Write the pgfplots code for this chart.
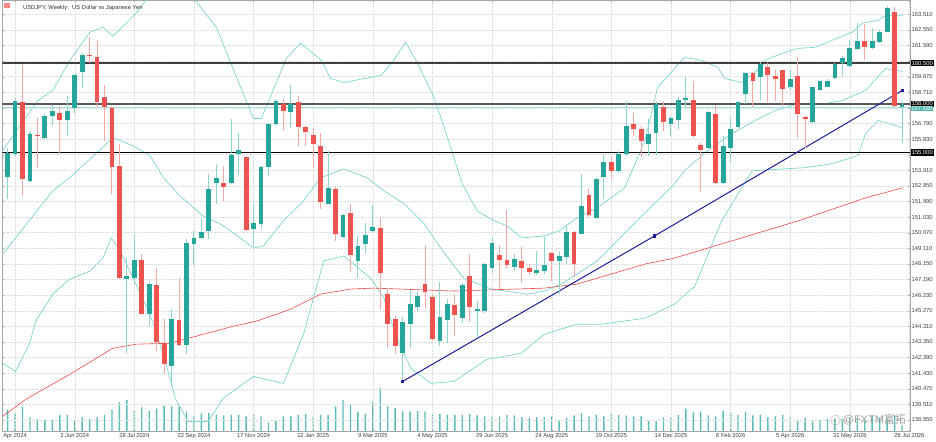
\documentclass[border=0pt]{standalone}
\usepackage{pgfplots}
\pgfplotsset{compat=1.18}
\usepackage{pgfplotstable}
\usepackage{fontspec}
\setmainfont{Liberation Sans}
\newfontfamily\cjk{Noto Sans CJK SC}
\definecolor{cg}{HTML}{26A69A}
\definecolor{cr}{HTML}{EF5350}
\definecolor{cgw}{HTML}{8FD3CC}
\definecolor{crw}{HTML}{F5A9A7}
\definecolor{band}{HTML}{7FD3CF}
\definecolor{ma}{HTML}{F04A4A}
\definecolor{navy}{HTML}{1C1C9C}
\pgfplotstableread{
i O H L C
0 153.51 155.30 152.15 154.99
1 154.93 158.32 154.81 158.14
3 153.26 156.29 153.20 156.16
5 155.92 157.40 155.86 157.27
6 157.27 157.95 156.72 157.58
8 157.03 158.45 156.04 157.58
9 157.71 159.80 157.46 159.74
10 159.93 161.10 158.94 160.98
16 147.22 148.57 142.65 147.40
17 147.28 149.99 146.91 148.39
19 145.06 147.03 144.32 146.91
22 141.85 145.37 140.62 144.75
24 143.15 149.69 142.59 149.44
25 149.38 150.18 148.08 149.75
26 149.75 150.92 149.69 150.12
27 150.18 153.70 149.69 152.77
28 153.14 154.31 151.85 153.45
30 153.14 157.09 153.08 154.87
31 154.93 156.23 153.70 155.18
33 150.30 151.78 149.25 150.67
34 150.61 154.19 150.30 154.13
35 154.13 156.84 153.57 156.78
36 156.78 158.32 156.66 158.14
38 157.52 159.13 156.53 158.01
43 151.85 155.12 151.85 152.83
45 149.81 151.23 149.75 151.17
47 148.33 149.87 147.28 149.25
48 149.38 150.67 148.82 149.93
49 150.18 151.78 150.06 150.43
53 142.65 144.87 140.92 144.56
54 144.44 146.66 142.96 145.68
55 145.49 146.48 145.24 146.17
58 143.39 147.03 143.08 144.87
59 144.69 145.98 143.27 145.68
61 144.81 146.97 144.50 146.85
63 145.24 145.86 143.58 145.37
64 145.24 148.20 145.12 148.14
65 147.90 149.81 147.59 149.44
68 147.96 148.76 147.71 148.45
71 147.59 148.94 147.46 147.77
72 147.71 149.81 147.53 148.08
74 148.33 148.94 146.29 148.64
75 148.58 150.55 148.14 150.12
77 149.99 153.70 149.99 151.72
79 150.98 153.45 150.92 153.39
80 153.51 154.87 152.15 154.44
82 153.88 155.12 153.76 154.93
83 154.93 158.14 154.81 156.66
86 155.55 157.09 154.81 156.16
87 156.23 158.08 154.87 158.01
89 156.78 157.27 156.04 157.15
90 157.03 158.39 156.47 158.26
91 158.26 159.62 157.77 158.35
94 155.30 157.58 155.24 157.52
96 153.14 156.04 153.08 155.42
97 155.30 157.15 154.44 156.47
98 156.60 158.20 156.53 158.08
99 158.63 159.93 158.01 159.87
101 159.62 160.54 158.26 160.42
105 159.00 160.05 158.82 159.50
108 156.90 159.06 156.84 159.00
109 158.82 159.43 158.76 159.37
110 159.06 159.50 159.00 159.43
111 159.56 160.48 159.50 160.42
112 160.48 160.91 159.68 160.79
113 160.30 161.90 160.24 161.41
114 161.35 162.95 161.29 161.84
116 161.41 162.64 161.35 161.84
117 161.78 162.52 161.72 162.40
118 162.40 164.00 162.40 163.88
120 157.77 158.20 155.61 157.95
}\greentab
\pgfplotstableread{
i O H L C
2 158.08 160.36 152.34 153.39
4 156.10 157.15 154.07 156.00
7 157.46 157.77 154.93 157.03
11 161.00 162.09 160.48 160.92
12 160.85 161.90 157.71 158.08
13 158.39 159.13 155.73 157.77
14 157.71 157.89 152.46 154.13
15 154.19 155.55 147.22 147.28
18 148.39 148.76 145.00 145.06
20 146.85 147.90 142.77 143.33
21 143.27 144.75 141.36 141.97
23 144.69 147.28 143.08 143.15
29 153.14 154.19 152.03 152.89
32 154.74 154.81 150.18 150.24
37 158.01 158.32 156.35 157.58
39 158.08 158.45 155.42 156.60
40 156.60 156.66 155.42 156.29
41 156.10 156.53 154.13 155.55
42 155.42 156.23 151.54 151.97
44 152.77 152.89 149.56 149.99
46 151.29 151.85 147.71 148.70
50 150.36 150.98 145.37 147.59
51 146.29 146.66 142.96 144.44
52 144.75 144.93 142.59 143.08
56 146.91 149.32 145.43 146.42
57 146.11 146.23 143.39 143.52
60 145.61 146.29 143.70 145.00
62 147.40 148.76 144.56 145.49
66 148.70 149.32 146.60 148.39
67 148.39 151.47 147.90 148.08
69 148.33 149.19 146.97 147.90
70 147.90 148.14 147.46 147.65
73 148.82 148.88 147.09 148.33
76 150.12 150.18 147.34 148.14
78 152.40 152.83 151.04 151.17
81 154.44 154.81 153.33 153.88
84 156.78 157.46 156.04 156.47
85 156.47 156.66 154.74 155.73
88 157.83 158.20 156.35 156.90
92 158.26 159.43 155.92 156.04
93 155.49 155.61 152.59 155.18
95 157.34 157.95 153.08 153.14
100 159.87 159.93 157.77 159.43
102 160.24 160.48 158.08 159.74
103 159.68 160.05 158.20 159.50
104 160.05 160.05 157.89 158.88
106 159.68 160.85 155.92 157.40
107 157.15 157.27 155.30 157.09
115 161.84 162.89 160.67 161.47
119 163.63 163.94 157.77 157.89
}\redtab
\pgfplotstableread{
i v
0 21.7
1 18.3
2 25
3 14
4 12.7
5 11.7
6 11.7
7 16.7
8 16.7
9 11.7
10 14
11 12.3
12 14
13 16.7
14 21.7
15 29
16 31.3
17 20.7
18 24
19 20.7
20 22.7
21 25.7
22 25
23 24.3
24 20
25 15.7
26 18
27 18.3
28 16.7
29 16
30 16.7
31 16.7
32 15
33 16.7
34 15
35 9
36 10.7
37 15
38 15
39 16.7
40 17.3
41 15
42 16.7
43 16.7
44 25
45 31.3
46 26.7
47 19.3
48 17.3
49 29.3
50 43.3
51 25
52 23.3
53 20
54 20
55 20.7
56 20
57 18.3
58 17.3
59 16.7
60 16.7
61 16.7
62 17.7
63 16
64 15
65 14
66 15
67 16.7
68 16
69 14
70 13.3
71 14
72 14.3
73 15
74 11.7
75 13.3
76 16
77 18.3
78 15
79 16.7
80 15
81 18.3
82 16.7
83 16
84 15
85 15
86 10.7
87 10
88 14
89 14
90 16.7
91 22.7
92 19
93 20
94 16
95 15
96 20.7
97 19.3
98 16.7
99 19.3
100 16
101 16.7
102 14
103 15
104 16.7
105 15
106 11.7
107 13.3
108 10
109 11.7
110 12.7
111 12.7
112 12.7
113 13.3
114 14
115 11.7
116 16
117 14
118 13
119 16
120 6
}\voltab
\begin{document}
\begin{tikzpicture}
\begin{axis}[
  scale only axis, width=905bp, height=430bp,
  xmin=-0.7, xmax=121.1, ymin=0, ymax=430, hide axis, clip=true,
]
\addplot[ybar, bar width=1.4bp, fill=cg!75, draw=none] table[x=i, y=v] {\voltab};
\end{axis}
\begin{axis}[
  scale only axis, width=905bp, height=430bp,
  xmin=-0.7, xmax=121.1, ymin=137.84, ymax=164.37,
  axis line style={gray!70},
  ytick={137.59,138.55,139.51,140.47,141.43,142.39,143.35,144.31,145.27,146.23,147.19,148.15,149.11,150.07,151.03,151.99,152.95,153.91,154.87,155.83,156.79,157.75,158.71,159.67,160.63,161.59,162.55,163.51},
  yticklabels={137.590,138.550,139.510,140.470,141.430,142.390,143.350,144.310,145.270,146.230,147.190,148.150,149.110,150.070,151.030,151.990,152.950,153.910,,155.830,156.790,,158.710,159.670,,161.590,162.550,163.510},
  yticklabel pos=right,
  xtick={1,9,17,25,33,41,49,57,65,73,81,89,97,105,113,121},
  xticklabels={Apr 2024,2 Jun 2024,28 Jul 2024,22 Sep 2024,17 Nov 2024,12 Jan 2025,9 Mar 2025,4 May 2025,29 Jun 2025,24 Aug 2025,19 Oct 2025,14 Dec 2025,8 Feb 2026,5 Apr 2026,31 May 2026,26 Jul 2026},
  tick label style={font=\fontsize{5.8}{6}\selectfont, text=black!75},
  yticklabel style={xshift=-2bp},
  xticklabel style={yshift=2bp},
  tick style={gray!70}, major tick length=2bp,
  grid=major, grid style={densely dotted, gray!25},
  clip=true,
  candle/.style={draw=none, mark=none, forget plot, error bars/.cd, y dir=plus, y explicit, error mark=none},
]
% bands
\addplot[band, line width=0.7bp] coordinates {(-0.67,155.12)(4.04,158.20)(6.06,158.82)(8.34,160.67)(11.04,162.40)(12.79,162.70)(14.13,162.15)(17.23,163.57)(18.57,164.37)(21.5,166.53)(25.17,164.37)(28.0,162.70)(32.97,157.09)(34.05,157.09)(37.4,160.79)(39.3,161.72)(42.1,160.67)(43.3,159.56)(45.1,159.31)(50.1,159.74)(51.8,160.67)(53.4,161.78)(54.8,160.67)(57.2,158.39)(58.5,156.66)(61.0,153.08)(63.0,151.41)(65.3,150.80)(67.0,150.49)(69.0,149.75)(72.0,149.87)(74.0,150.18)(76.4,150.98)(79.1,151.60)(82.8,152.83)(85.5,155.73)(87.2,159.00)(89.5,160.17)(90.8,160.85)(93.1,160.67)(95.3,160.24)(96.2,159.56)(98.5,159.31)(100.3,159.93)(101.6,160.67)(103.9,161.10)(106.1,161.41)(108.3,161.47)(110.6,161.90)(113.3,162.40)(114.7,162.95)(116.8,163.14)(117.8,163.44)(120.1,163.44)};
\addplot[band, line width=0.7bp] coordinates {(-0.67,148.76)(1.08,149.75)(6.06,152.65)(8.34,153.45)(11.84,154.93)(14.13,155.92)(16.8,155.42)(19.1,154.81)(20.9,153.45)(23.1,152.34)(26.2,151.10)(28.5,150.61)(30.3,150.06)(33.0,149.13)(34.3,149.25)(37.0,150.80)(39.7,152.03)(42.0,153.45)(45.1,154.00)(48.2,153.45)(50.5,152.65)(53.2,151.85)(55.9,150.61)(58.1,149.13)(59.9,148.02)(61.2,147.28)(64.9,146.60)(69.7,146.29)(72.0,146.48)(74.3,146.91)(76.4,147.53)(79.1,148.33)(82.4,149.87)(85.5,151.29)(89.5,153.08)(90.8,153.88)(93.9,155.12)(97.2,156.16)(100.3,156.97)(103.0,157.58)(106.1,158.01)(109.7,158.01)(112.0,158.20)(115.1,158.82)(117.8,160.17)(120.1,159.99)};
\addplot[band, line width=0.7bp] coordinates {(-0.67,142.03)(1.08,141.54)(2.96,143.27)(3.77,144.63)(6.06,146.29)(8.34,147.22)(11.04,147.71)(12.79,148.51)(13.9,149.75)(15.1,148.94)(17.2,146.91)(19.1,145.06)(20.9,142.59)(22.5,139.88)(24.2,138.46)(26.9,138.46)(28.9,139.88)(33.0,141.23)(37.0,140.80)(39.7,143.82)(42.4,148.33)(45.1,148.64)(46.4,148.14)(48.7,147.28)(50.5,146.04)(52.2,143.58)(54.1,141.73)(56.8,140.80)(59.9,140.92)(64.3,142.28)(68.9,142.65)(72.0,143.82)(76.4,144.44)(79.7,144.44)(85.5,144.81)(89.5,145.68)(92.2,146.78)(95.8,150.80)(99.9,153.88)(107.0,154.07)(110.6,154.31)(114.1,154.81)(115.1,156.16)(116.8,156.97)(120.1,156.53)};
% moving average
\addplot[ma, line width=0.6bp] coordinates {(-0.67,138.77)(2.4,139.81)(8.34,141.36)(14.1,142.96)(17.2,143.21)(21.8,143.27)(30.3,144.32)(33.4,144.63)(38.0,145.37)(42.0,146.29)(46.0,146.60)(49.1,146.66)(52.8,146.60)(59.9,146.48)(72.0,146.66)(76.4,146.91)(81.0,147.53)(85.5,148.14)(89.5,148.51)(106.1,150.80)(115.1,152.21)(120.1,152.83)};
% horizontal levels
\addplot[black!75, line width=1.6bp] coordinates {(-0.7,160.5)(121.1,160.5)};
\addplot[black!65, line width=1.6bp] coordinates {(-0.7,158.0)(121.1,158.0)};
\addplot[band!70, line width=1bp] coordinates {(-0.7,157.78)(121.1,157.78)};
\addplot[black, line width=0.9bp] coordinates {(-0.7,155.0)(121.1,155.0)};
% trendline
\addplot[navy, line width=1bp, mark=square*, mark size=1.3bp, mark options={navy}] coordinates {(53.0,140.92)(86.8,149.87)(120.05,158.82)};
% wicks
\addplot[candle, error bar style={line width=1bp, cgw}] table[x=i, y=L, y error expr=\thisrow{H}-\thisrow{L}] {\greentab};
\addplot[candle, error bar style={line width=1bp, crw}] table[x=i, y=L, y error expr=\thisrow{H}-\thisrow{L}] {\redtab};
% bodies
\addplot[candle, error bar style={line width=4.8bp, cg}] table[x=i, y=O, y error expr={max(\thisrow{C}-\thisrow{O},0.07)}] {\greentab};
\addplot[candle, error bar style={line width=4.8bp, cr}] table[x=i, y=C, y error expr={max(\thisrow{O}-\thisrow{C},0.07)}] {\redtab};
\end{axis}
% labels outside plot
\begin{axis}[scale only axis, width=905bp, height=430bp, xmin=-0.7, xmax=121.1, ymin=137.84, ymax=164.37, hide axis, clip=false]
\node[anchor=west, fill=black, text=white, inner sep=1bp, font=\fontsize{5.8}{6}\selectfont] at (axis cs:121.15,160.5) {160.500};
\node[anchor=west, fill=black, text=white, inner sep=1bp, font=\fontsize{5.8}{6}\selectfont] at (axis cs:121.15,158.0) {158.000};
\node[anchor=west, fill=cg!80, text=white, inner sep=0.6bp, font=\fontsize{5.8}{6}\selectfont] at (axis cs:121.15,157.72) {157.580};
\node[anchor=west, fill=black, text=white, inner sep=1bp, font=\fontsize{5.8}{6}\selectfont] at (axis cs:121.15,155.0) {155.000};
\node[anchor=north west, font=\fontsize{5.8}{6}\selectfont, text=black!80] at (axis cs:1.6,164.25) {USDJPY, Weekly:\ \ US Dollar vs Japanese Yen};
\node[anchor=north west, fill=cr!70, minimum width=6bp, minimum height=5bp, inner sep=0] at (axis cs:-0.5,164.2) {};
\node[anchor=south east, font=\fontsize{11}{12}\selectfont, text=gray!75] at (axis cs:121,138.0) {\textcircled{\tiny f}\,@FXTM{\cjk 富拓}};
\end{axis}
\end{tikzpicture}
\end{document}
